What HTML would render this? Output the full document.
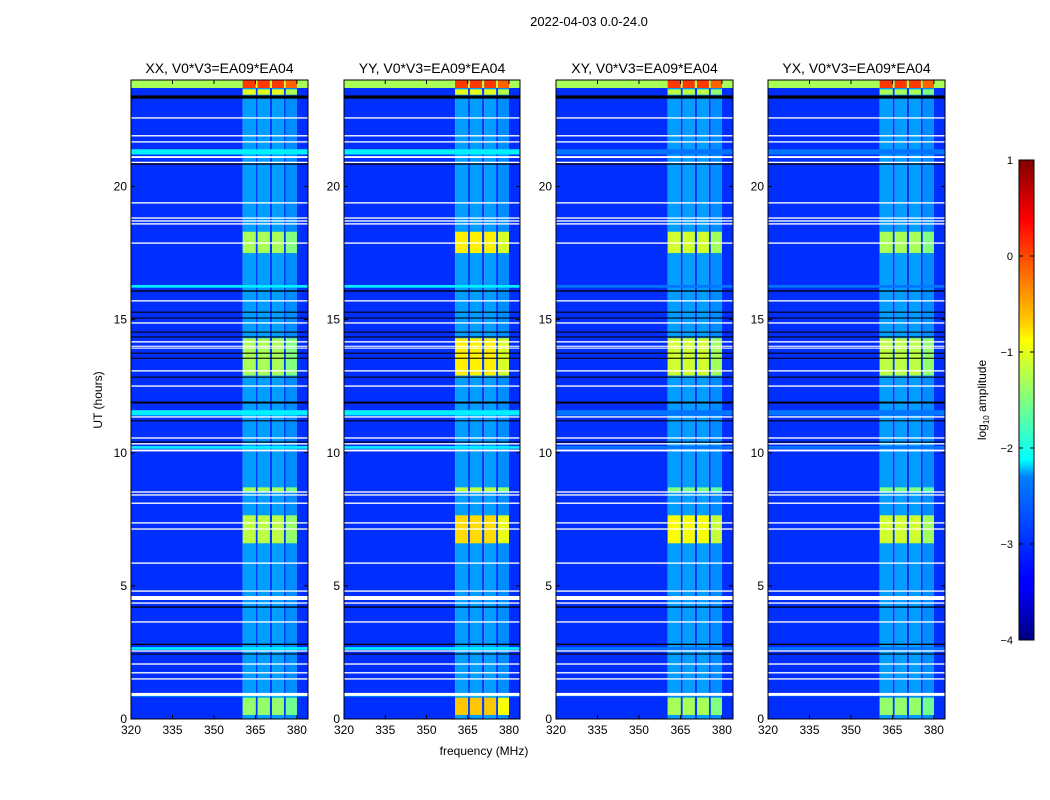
<!DOCTYPE html>
<html><head><meta charset="utf-8"><style>
html,body{margin:0;padding:0;background:#fff;}
svg{display:block;font-family:"Liberation Sans",sans-serif;}
</style></head><body>
<svg id="fig" width="1050" height="800" viewBox="0 0 1050 800">
<text x="589" y="26" font-size="13" text-anchor="middle">2022-04-03 0.0-24.0</text>
<text x="484" y="755" font-size="12" text-anchor="middle">frequency (MHz)</text>
<text x="102" y="400" font-size="12" text-anchor="middle" transform="rotate(-90 102 400)">UT (hours)</text>
<g id="panels"></g>
<defs><linearGradient id="jet" x1="0" y1="1" x2="0" y2="0">
<stop offset="0" stop-color="#000080"/><stop offset="0.11" stop-color="#0000ff"/><stop offset="0.125" stop-color="#0000ff"/>
<stop offset="0.34" stop-color="#0080ff"/><stop offset="0.375" stop-color="#00ffff"/><stop offset="0.5" stop-color="#80ff80"/>
<stop offset="0.625" stop-color="#ffff00"/><stop offset="0.66" stop-color="#ffd000"/><stop offset="0.875" stop-color="#ff0000"/><stop offset="1" stop-color="#800000"/>
</linearGradient></defs>
<g>
<rect x="1019" y="160" width="15" height="480" fill="url(#jet)" stroke="#000" stroke-width="1"/>
<g id="cbticks"></g>
<text x="986" y="400" font-size="12" text-anchor="middle" transform="rotate(-90 986 400)">log<tspan font-size="8" dy="3">10</tspan><tspan dy="-3"> amplitude</tspan></text>
</g>
</svg>
<script>
const panelTitles = ["XX, V0*V3=EA09*EA04","YY, V0*V3=EA09*EA04","XY, V0*V3=EA09*EA04","YX, V0*V3=EA09*EA04"];
const xTicks = [320,335,350,365,380];
const yTicks = [0,5,10,15,20];
const cbTicks = [1,0,-1,-2,-3,-4];
const freqSegs = [[320,360.4],[360.4,365.1],[365.1,365.8],[365.8,370.2],[370.2,371],[371,375.3],[375.3,376],[376,380],[380,384]];
const chanGain = [0,1,0.1,1,0.1,1,0.1,0.85,0];
const bgLevel = -3.15;
const quietBand = -2.6;
const bursts = [[0.15,0.8],[6.6,7.65],[8.55,8.7],[12.9,14.3],[17.5,18.3],[23.45,23.65]];
const burstXX = [-1.4,-1.2,-1.3,-1.3,-1.3,-1.0];
const burstYY = [-0.6,-0.7,-1.2,-0.8,-0.8,-1.0];
const burstXY = [-1.3,-0.9,-1.5,-1.1,-1.1,-1.2];
const burstYX = [-1.4,-1.1,-1.5,-1.2,-1.3,-1.3];
const topStrip = [23.7,24];
const topStripLevels = [-1.3,0.1];
const cyanRows = [[21.2,21.4],[16.2,16.3],[11.4,11.6],[10.15,10.25],[2.6,2.7],[0.85,0.92]];
const cyanLevel = [-2.2,-2.2,-2.8,-2.8];
const blackRows = [[23.3,23.42],[20.82,20.87],[16.05,16.1],[15.26,15.3],[15.04,15.08],[14.51,14.55],[14.33,14.37],[13.72,13.76],[13.53,13.57],[12.82,12.86],[11.85,11.92],[11.18,11.22],[10.38,10.42],[4.18,4.23],[2.78,2.83],[2.42,2.46]];
const whiteRows = [[22.55,22.6],[21.88,21.93],[21.65,21.7],[21.07,21.14],[20.88,20.93],[19.36,19.41],[18.79,18.84],[18.68,18.73],[18.57,18.62],[17.85,17.9],[15.68,15.73],[14.85,14.9],[14.14,14.19],[13.98,14.02],[13.91,13.95],[13.05,13.1],[12.48,12.53],[11.32,11.37],[10.53,10.58],[10.31,10.36],[10.05,10.12],[8.5,8.55],[8.39,8.44],[8.08,8.13],[7.34,7.39],[7.11,7.16],[5.83,5.88],[4.78,4.83],[4.47,4.62],[4.33,4.38],[3.62,3.67],[2.53,2.58],[2.04,2.09],[1.71,1.76],[1.48,1.53],[0.87,0.98]];

const panelX = [[131,308],[344,520],[556,733],[768,945]];
const Y0=80, Y1=719, FMIN=320, FMAX=384, HMAX=24;
const NS="http://www.w3.org/2000/svg";
function jet(v){let t=(v+4)/5;t=Math.max(0,Math.min(1,t));
 const c=x=>Math.round(255*Math.max(0,Math.min(1,x)));
 return `rgb(${c(1.5-Math.abs(4*t-3))},${c(1.5-Math.abs(4*t-2))},${c(1.5-Math.abs(4*t-1))})`;}
function mk(tag,attrs,parent){const e=document.createElementNS(NS,tag);for(const k in attrs)e.setAttribute(k,attrs[k]);parent.appendChild(e);return e;}
const root=document.getElementById('panels');
const burstSets=[burstXX,burstYY,burstXY,burstYX];
panelX.forEach((px,p)=>{
 const [xa,xb]=px;const W=xb-xa;
 const xs=f=>xa+(f-FMIN)/(FMAX-FMIN)*W;
 const ys=h=>Y1-h/HMAX*(Y1-Y0);
 const g=mk('g',{},root);
 
 
 const cell=(f0,f1,h0,h1,col)=>{const r=mk('rect',{x:xs(f0),y:ys(h1),width:xs(f1)-xs(f0),height:Math.max(0.8,ys(h0)-ys(h1)),fill:col},g);
  
  return r;};
 freqSegs.forEach((s,i)=>cell(s[0],s[1],0,HMAX,jet(bgLevel+chanGain[i]*(quietBand-bgLevel))));
 bursts.forEach((b,k)=>{const lv=burstSets[p][k];
  freqSegs.forEach((s,i)=>{if(chanGain[i]>0.5)cell(s[0],s[1],b[0],b[1],jet(quietBand+chanGain[i]*(lv-quietBand)));});});
 freqSegs.forEach((s,i)=>cell(s[0],s[1],topStrip[0],topStrip[1],jet(topStripLevels[0]+chanGain[i]*(topStripLevels[1]-topStripLevels[0]))));
 cyanRows.forEach(r=>cell(FMIN,FMAX,r[0],r[1],jet(cyanLevel[p])));
 blackRows.forEach(r=>cell(FMIN,FMAX,r[0],r[1],'#000'));
 whiteRows.forEach(r=>cell(FMIN,FMAX,r[0],r[1],'#fff'));
 const fr=mk('rect',{x:xa,y:Y0,width:W,height:Y1-Y0,fill:'none',stroke:'#000','stroke-width':1},g);
 
 
 const t=mk('text',{x:(xa+xb)/2,y:73,'font-size':14,'text-anchor':'middle'},g);t.textContent=panelTitles[p];
 
 
 xTicks.forEach(v=>{const x=xs(v);
  mk('line',{x1:x,x2:x,y1:Y1,y2:Y1-4,stroke:'#000'},g);mk('line',{x1:x,x2:x,y1:Y0,y2:Y0+4,stroke:'#000'},g);
  const l=mk('text',{x:x,y:Y1+15,'font-size':12,'text-anchor':'middle'},g);l.textContent=v;
  
  });
 yTicks.forEach(v=>{const y=ys(v);
  mk('line',{x1:xa,x2:xa+4,y1:y,y2:y,stroke:'#000'},g);mk('line',{x1:xb,x2:xb-4,y1:y,y2:y,stroke:'#000'},g);
  const l=mk('text',{x:xa-4,y:y+4,'font-size':12,'text-anchor':'end'},g);l.textContent=v;
  
  });
});
const cb=document.getElementById('cbticks');
cbTicks.forEach(v=>{const y=160+(1-v)/5*480;
 mk('line',{x1:1019,x2:1023,y1:y,y2:y,stroke:'#000'},cb);mk('line',{x1:1034,x2:1030,y1:y,y2:y,stroke:'#000'},cb);
 const l=mk('text',{x:1013,y:y+4,'font-size':11,'text-anchor':'end'},cb);l.textContent=v<0?'\u2212'+(-v):v;
 
 });
</script>
</body></html>
